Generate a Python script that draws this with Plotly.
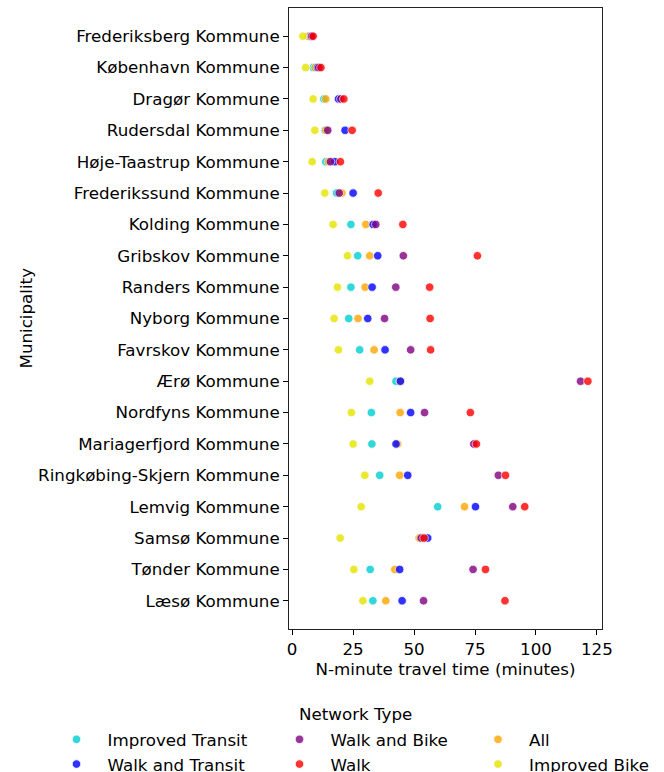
import plotly.graph_objects as go

municipalities = [
    "Frederiksberg Kommune", "København Kommune", "Dragør Kommune",
    "Rudersdal Kommune", "Høje-Taastrup Kommune", "Frederikssund Kommune",
    "Kolding Kommune", "Gribskov Kommune", "Randers Kommune",
    "Nyborg Kommune", "Favrskov Kommune", "Ærø Kommune",
    "Nordfyns Kommune", "Mariagerfjord Kommune", "Ringkøbing-Skjern Kommune",
    "Lemvig Kommune", "Samsø Kommune", "Tønder Kommune", "Læsø Kommune",
]

improved_transit = [7.0, 8.6, 13.0, 13.5, 13.8, 18.2, 24.1, 26.9, 24.1, 23.2,
                    27.7, 42.6, 32.5, 32.7, 35.9, 59.7, 53.5, 32.0, 33.1]
walk_and_transit = [7.8, 10.4, 19.0, 21.7, 17.5, 25.0, 33.2, 35.1, 32.8, 31.0,
                    38.1, 44.4, 48.6, 42.6, 47.4, 75.2, 55.6, 44.1, 45.1]
walk_and_bike = [8.0, 10.9, 20.0, 14.6, 15.7, 19.3, 34.3, 45.6, 42.5, 37.9,
                 48.6, 118.3, 54.3, 74.5, 84.6, 90.5, 52.9, 74.2, 53.9]
walk = [8.6, 11.8, 21.2, 24.6, 19.8, 35.3, 45.4, 76.0, 56.4, 56.6,
        56.8, 121.3, 73.1, 75.6, 87.5, 95.4, 54.1, 79.3, 87.3]
all_networks = [6.6, 9.4, 13.8, 13.8, 14.9, 20.4, 30.2, 31.8, 29.9, 27.0,
                33.6, 44.4, 44.3, 43.3, 44.1, 70.7, 52.1, 42.1, 38.4]
improved_bike = [4.4, 5.5, 8.6, 9.3, 8.2, 13.4, 16.8, 22.7, 18.6, 17.2,
                 19.0, 31.8, 24.3, 25.0, 29.8, 28.3, 19.7, 25.3, 29.0]

x_ticks = [0, 25, 50, 75, 100, 125]

# (name, values, colour, legend id, rank in legend); listed in drawing order
series = [
    ("Improved Transit", improved_transit, "#00CED1", "legend", 1),
    ("All", all_networks, "#FFA500", "legend3", 1),
    ("Improved Bike", improved_bike, "#E6E400", "legend3", 2),
    ("Walk and Transit", walk_and_transit, "#0000FF", "legend", 2),
    ("Walk and Bike", walk_and_bike, "#800080", "legend2", 1),
    ("Walk", walk, "#FF0000", "legend2", 2),
]

FONT = "DejaVu Sans"
FS = 16.7
W, H = 664, 772
ML, MR, MT, MB = 289, 62, 8, 143
PW, PH = W - ML - MR, H - MT - MB

fig = go.Figure()
for name, vals, color, leg, rank in series:
    fig.add_trace(go.Scatter(
        x=vals, y=municipalities, mode="markers", name=name,
        legend=leg, legendrank=rank,
        marker=dict(size=8.5, color=color, opacity=0.8,
                    line=dict(color="white", width=0.8)),
    ))

ITEM_W = 52
legend_common = dict(
    yref="container", xref="container", yanchor="top", xanchor="left",
    orientation="v", font=dict(family=FONT, size=FS, color="#000"),
    itemwidth=ITEM_W, bgcolor="rgba(0,0,0,0)", traceorder="normal",
    tracegroupgap=0,
)
leg_y = 1 - 722 / H
sym_off = ITEM_W / 2 + 5

fig.update_layout(
    width=W, height=H,
    margin=dict(l=ML, r=MR, t=MT, b=MB, autoexpand=False),
    plot_bgcolor="white", paper_bgcolor="white",
    font=dict(family=FONT, size=FS, color="#000"),
    showlegend=True,
    legend=dict(x=(76.5 - sym_off) / W, y=leg_y, **legend_common),
    legend2=dict(x=(299.5 - sym_off) / W, y=leg_y, **legend_common),
    legend3=dict(x=(498 - sym_off) / W, y=leg_y, **legend_common),
    xaxis=dict(
        range=[-1.3, 127.1], tickvals=x_ticks, ticks="outside", ticklen=5,
        tickwidth=1, tickcolor="#000", showline=True, mirror=True,
        linecolor="#222", linewidth=1, showgrid=False, zeroline=False,
        tickfont=dict(family=FONT, size=FS, color="#000"),
        title=dict(text="N-minute travel time (minutes)", standoff=4,
                   font=dict(family=FONT, size=FS, color="#000")),
    ),
    yaxis=dict(
        type="category", categoryorder="array", categoryarray=municipalities,
        range=[18.9, -0.9], ticks="outside", ticklen=5, tickwidth=1,
        tickcolor="#000", showline=True, mirror=True, linecolor="#222",
        linewidth=1, showgrid=False, zeroline=False,
        tickfont=dict(family=FONT, size=FS, color="#000"),
    ),
    annotations=[
        dict(
            text="Network Type", xref="paper", yref="paper",
            x=(355 - ML) / PW, y=(MT + PH - 714) / PH,
            xanchor="center", yanchor="middle",
            showarrow=False, font=dict(family=FONT, size=FS, color="#000"),
        ),
        dict(
            text="Municipality", xref="paper", yref="paper",
            x=(25 - ML) / PW, y=0.5, textangle=-90,
            xanchor="center", yanchor="middle",
            showarrow=False, font=dict(family=FONT, size=FS, color="#000"),
        ),
    ],
)

fig.write_html("out.html")
